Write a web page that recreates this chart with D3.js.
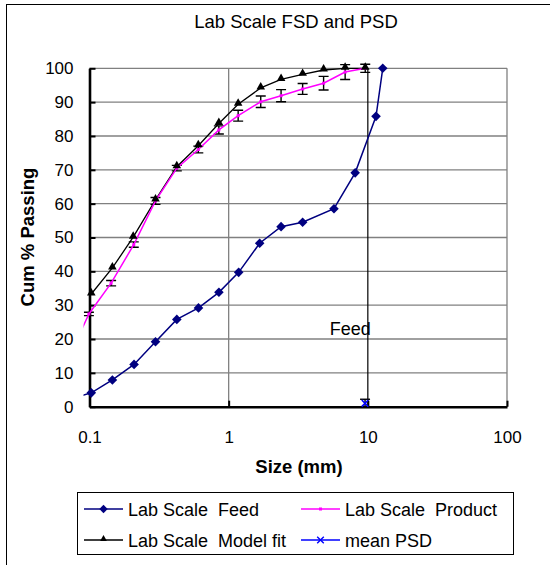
<!DOCTYPE html>
<html>
<head>
<meta charset="utf-8">
<script src="https://cdn.jsdelivr.net/npm/d3@7/dist/d3.min.js"></script>
<style>
  html, body { margin: 0; padding: 0; background: #fff; }
  svg { display: block; font-family: "Liberation Sans", Arial, sans-serif; }
  text { white-space: pre; }
</style>
</head>
<body>
<svg id="chart" width="550" height="565"></svg>
<script>
// Sieve sizes (mm) and cumulative % passing for each series
const feedSize   = [0.075, 0.103, 0.146, 0.209, 0.298, 0.424, 0.607, 0.851, 1.18, 1.67, 2.38, 3.40, 5.71, 8.11, 11.45, 12.8];
const feedPass   = [2.4, 4.1, 7.9, 12.5, 19.2, 25.8, 29.2, 33.8, 39.7, 48.3, 53.2, 54.5, 58.5, 69.1, 85.8, 100];

const productSize = [0.075, 0.099, 0.143, 0.208, 0.298, 0.424, 0.605, 0.85, 1.17, 1.70, 2.38, 3.40, 4.81, 6.87, 9.58];
const productPass = [16.6, 27.4, 36.5, 47.9, 60.8, 70.5, 76.0, 81.8, 86.0, 90.1, 91.9, 93.9, 95.6, 98.9, 100];
const productErr  = [0, 0.5, 0.8, 0.8, 1.0, 0.8, 1.0, 1.2, 1.6, 1.7, 1.8, 1.6, 2.0, 2.2, 1.2];

const modelSize = [0.103, 0.146, 0.206, 0.298, 0.424, 0.605, 0.85, 1.17, 1.70, 2.38, 3.40, 4.81, 6.87, 9.58];
const modelPass = [33.3, 41.0, 50.1, 61.1, 70.9, 77.1, 83.7, 89.4, 94.2, 96.7, 98.2, 99.5, 100, 100];

const meanSize = [9.55];
const meanPass = [1.0];
const meanErr  = [1.2];

const xTicks = [0.1, 1, 10, 100];
const xTickLabels = ["0.1", "1", "10", "100"];
const yTicks = [0, 10, 20, 30, 40, 50, 60, 70, 80, 90, 100];

const svg = d3.select("#chart");
const W = 550, H = 565;
const FONT = "Liberation Sans, Arial, sans-serif";

svg.append("rect").attr("width", W).attr("height", H).attr("fill", "#fff");
// chart frame
svg.append("rect").attr("x", 6.5).attr("y", 4.5).attr("width", 560).attr("height", 580)
  .attr("fill", "none").attr("stroke", "#000").attr("stroke-width", 1);

const x = d3.scaleLog().domain([0.1, 100]).range([89.5, 507]);
const y = d3.scaleLinear().domain([0, 100]).range([406.7, 68.3]);

// title
svg.append("text").attr("x", 296).attr("y", 28).attr("text-anchor", "middle")
  .attr("font-size", 18.5).text("Lab Scale FSD and PSD");

// horizontal gridlines
svg.append("g").selectAll("line").data(yTicks.filter(d => d > 0)).join("line")
  .attr("x1", x(0.1)).attr("x2", x(100))
  .attr("y1", d => y(d)).attr("y2", d => y(d))
  .attr("stroke", "#808080").attr("stroke-width", 1.3);

// vertical gridlines
svg.append("g").selectAll("line").data([1, 100]).join("line")
  .attr("x1", d => x(d)).attr("x2", d => x(d))
  .attr("y1", y(0)).attr("y2", y(100))
  .attr("stroke", "#808080").attr("stroke-width", 1.3);
svg.append("line")
  .attr("x1", x(10)).attr("x2", x(10)).attr("y1", y(0)).attr("y2", y(100))
  .attr("stroke", "#000").attr("stroke-width", 1.2);

// axes
const yAxis = d3.axisLeft(y).tickValues(yTicks).tickSizeInner(-6).tickSizeOuter(0).tickPadding(16);
const gy = svg.append("g").attr("transform", `translate(${x(0.1)},0)`).call(yAxis);
gy.select(".domain").attr("stroke", "#000").attr("stroke-width", 2.6);
gy.selectAll(".tick line").attr("stroke", "#000").attr("stroke-width", 2);
gy.selectAll(".tick text").attr("font-size", 17).attr("font-family", FONT).attr("fill", "#000");

const xAxis = d3.axisBottom(x).tickValues(xTicks).tickFormat((d, i) => xTickLabels[i])
  .tickSizeInner(-6).tickSizeOuter(0).tickPadding(24);
const gx = svg.append("g").attr("transform", `translate(0,${y(0)})`).call(xAxis);
gx.select(".domain").attr("stroke", "#000").attr("stroke-width", 2.6);
gx.selectAll(".tick line").attr("stroke", "#000").attr("stroke-width", 2);
gx.selectAll(".tick text").attr("font-size", 17).attr("font-family", FONT).attr("fill", "#000");

// axis titles
svg.append("text").attr("x", 299).attr("y", 473).attr("text-anchor", "middle")
  .attr("font-size", 18.5).attr("font-weight", "bold").text("Size (mm)");
svg.append("text").attr("transform", "translate(34,237) rotate(-90)").attr("text-anchor", "middle")
  .attr("font-size", 18.5).attr("font-weight", "bold").text("Cum % Passing");

// clip for series lines
svg.append("clipPath").attr("id", "plotclip").append("rect")
  .attr("x", x(0.1) - 6).attr("y", 60).attr("width", x(100) - x(0.1) + 20).attr("height", 360);

const plot = svg.append("g").attr("clip-path", "url(#plotclip)");
const line = d3.line().x(d => x(d[0])).y(d => y(d[1]));

const feed = feedSize.map((s, i) => [s, feedPass[i]]);
const product = productSize.map((s, i) => [s, productPass[i], productErr[i]]);
const model = modelSize.map((s, i) => [s, modelPass[i]]);
const mean = meanSize.map((s, i) => [s, meanPass[i], meanErr[i]]);

// vertical error bars with caps
function errBars(g, data) {
  const eb = g.append("g").attr("stroke", "#000").attr("stroke-width", 1.4);
  data.filter(d => d[2] > 0).forEach(d => {
    const cx = x(d[0]);
    const y1 = y(d[1] + d[2]), y2 = y(d[1] - d[2]);
    eb.append("line").attr("x1", cx).attr("x2", cx).attr("y1", y1).attr("y2", y2);
    eb.append("line").attr("x1", cx - 5).attr("x2", cx + 5).attr("y1", y1).attr("y2", y1);
    eb.append("line").attr("x1", cx - 5).attr("x2", cx + 5).attr("y1", y2).attr("y2", y2);
  });
}

// diamond marker: square turned 45 degrees
const diamondPath = r => `M0,${-r}L${r},0L0,${r}L${-r},0Z`;

// model fit
plot.append("path").datum(model).attr("d", line).attr("fill", "none")
  .attr("stroke", "#000").attr("stroke-width", 1.3);
errBars(plot, product);
// product
plot.append("path").datum(product).attr("d", line).attr("fill", "none")
  .attr("stroke", "#ff00ff").attr("stroke-width", 1.5);
plot.append("g").selectAll("rect").data(product.filter(d => d[0] >= 0.09)).join("rect")
  .attr("x", d => x(d[0]) - 1.5).attr("y", d => y(d[1]) - 1.5)
  .attr("width", 3).attr("height", 3).attr("fill", "#ff00ff");
// model triangles
const tri = d3.symbol().type(d3.symbolTriangle).size(32);
svg.append("g").selectAll("path").data(model).join("path")
  .attr("transform", d => `translate(${x(d[0])},${y(d[1]) - 1})`)
  .attr("d", tri).attr("fill", "#000");

// feed
plot.append("path").datum(feed).attr("d", line).attr("fill", "none")
  .attr("stroke", "#000080").attr("stroke-width", 1.5);
svg.append("g").selectAll("path").data(feed.filter(d => d[0] >= 0.09)).join("path")
  .attr("transform", d => `translate(${x(d[0])},${y(d[1])})`)
  .attr("d", diamondPath(4.8)).attr("fill", "#000080");

// mean PSD
errBars(svg, mean);
const cross = d3.symbol().type(d3.symbolX).size(30);
svg.append("g").selectAll("path").data(mean).join("path")
  .attr("transform", d => `translate(${x(d[0])},${y(d[1])})`)
  .attr("d", cross).attr("fill", "none").attr("stroke", "#0000ff").attr("stroke-width", 1.6);

// annotation
svg.append("text").attr("x", x(10) + 3).attr("y", y(23) + 6.5).attr("text-anchor", "end")
  .attr("font-size", 18).text("Feed");

// legend
const lg = svg.append("g");
lg.append("rect").attr("x", 77.5).attr("y", 492.5).attr("width", 436).attr("height", 62)
  .attr("fill", "#fff").attr("stroke", "#000").attr("stroke-width", 1);
const legendItems = [
  { label: "Lab Scale  Feed", color: "#000080", sym: "diamond", col: 0, row: 0 },
  { label: "Lab Scale  Product", color: "#ff00ff", sym: "square", col: 1, row: 0 },
  { label: "Lab Scale  Model fit", color: "#000", sym: "triangle", col: 0, row: 1 },
  { label: "mean PSD", color: "#0000ff", sym: "x", col: 1, row: 1 }
];
const colX = [84, 301], rowY = [509, 540];
legendItems.forEach(it => {
  const lx = colX[it.col], ly = rowY[it.row];
  lg.append("line").attr("x1", lx).attr("x2", lx + 39).attr("y1", ly).attr("y2", ly)
    .attr("stroke", it.color).attr("stroke-width", 1.5);
  const cx = lx + 19.5;
  if (it.sym === "diamond") {
    lg.append("path").attr("transform", `translate(${cx},${ly})`).attr("d", diamondPath(4.2)).attr("fill", it.color);
  } else if (it.sym === "square") {
    lg.append("rect").attr("x", cx - 1.5).attr("y", ly - 1.5).attr("width", 3).attr("height", 3).attr("fill", it.color);
  } else if (it.sym === "triangle") {
    lg.append("path").attr("transform", `translate(${cx},${ly - 1})`).attr("d", d3.symbol().type(d3.symbolTriangle).size(20)).attr("fill", it.color);
  } else {
    lg.append("path").attr("transform", `translate(${cx},${ly})`).attr("d", cross)
      .attr("fill", "none").attr("stroke", it.color).attr("stroke-width", 1.4);
  }
  lg.append("text").attr("x", lx + 44).attr("y", ly + 6.5).attr("font-size", 18)
    .attr("xml:space", "preserve").text(it.label);
});
</script>
</body>
</html>
